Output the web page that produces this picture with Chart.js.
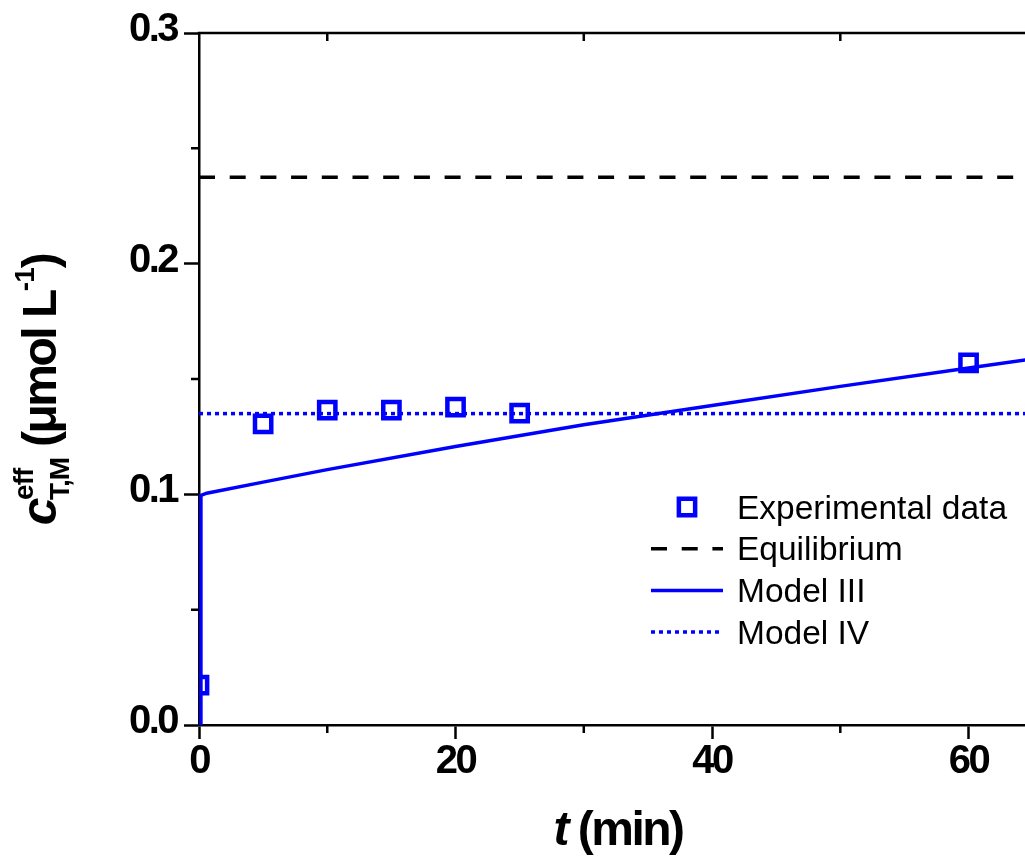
<!DOCTYPE html>
<html>
<head>
<meta charset="utf-8">
<script src="https://cdn.jsdelivr.net/npm/chart.js@4"></script>
<style>
  html, body { margin: 0; padding: 0; background: #fff; overflow: hidden; }
  #chart { display: block; }
</style>
</head>
<body>
<canvas id="chart" width="1025" height="857"></canvas>
<script>
'use strict';

// measured sorption data, t in min, c in µmol/L
const expTime = [0, 5, 10, 15, 20, 25, 60];
const expConc = [0.0173, 0.1305, 0.1365, 0.1365, 0.1378, 0.1352, 0.157];

// model III curve
const modelIIITime = [0.1, 0.15, 0.6, 5, 10, 20, 30, 40, 50, 60, 65];
const modelIIIConc = [0, 0.0995, 0.1005, 0.1053, 0.1107, 0.1207, 0.1302, 0.1385, 0.1468, 0.1548, 0.1587];

// flat levels
const lineTime = [0, 65];
const equilibriumConc = 0.2375;
const modelIVConc = 0.135;

// axis ticks
const xTickValues = [0, 20, 40, 60];
const yTickValues = [0, 0.1, 0.2, 0.3];
const xMinorValues = [10, 30, 50];
const yMinorValues = [0.05, 0.15, 0.25];

const FONT = '"Liberation Sans", Arial, Helvetica, sans-serif';
const BLUE = '#0000ff';
const AXIS_W = 2.5;

const pairs = (xs, ys) => xs.map((x, i) => ({ x, y: ys[i] }));
const level = (value) => lineTime.map((x) => ({ x, y: value }));

// draws a row of text pieces (sub/superscripts) one after another
const drawRuns = (ctx, runs, x, y) => {
  let cx = x;
  runs.forEach((r) => {
    ctx.font = r.font;
    ctx.letterSpacing = r.spacing || '-2.5px';
    ctx.fillText(r.text, cx, y + (r.dy || 0));
    if (r.advance !== false) cx += ctx.measureText(r.text).width;
  });
};
const runsWidth = (ctx, runs) => runs.reduce((w, r) => {
  ctx.font = r.font;
  ctx.letterSpacing = r.spacing || '-2.5px';
  return r.advance === false ? w : w + ctx.measureText(r.text).width;
}, 0);

const tightText = {
  id: 'tightText',
  beforeDraw: (chart) => { chart.ctx.letterSpacing = '-2.5px'; },
};

const frame = {
  id: 'frame',
  afterDraw: (chart) => {
    const { ctx, chartArea: area, scales } = chart;
    ctx.save();
    ctx.strokeStyle = '#000';
    ctx.lineWidth = AXIS_W;
    ctx.beginPath();
    ctx.moveTo(area.left - AXIS_W / 2, area.top);
    ctx.lineTo(area.right, area.top);
    xMinorValues.forEach((v) => {
      const px = scales.x.getPixelForValue(v);
      ctx.moveTo(px, area.bottom);
      ctx.lineTo(px, area.bottom + 8);
      ctx.moveTo(px, area.top);
      ctx.lineTo(px, area.top + 8);
    });
    yMinorValues.forEach((v) => {
      const py = scales.y.getPixelForValue(v);
      ctx.moveTo(area.left, py);
      ctx.lineTo(area.left - 8, py);
    });
    ctx.stroke();
    ctx.restore();
  },
};

const labels = {
  id: 'labels',
  afterDraw: (chart) => {
    const { ctx, chartArea: area } = chart;
    ctx.save();
    ctx.fillStyle = '#000';
    ctx.textBaseline = 'alphabetic';

    // x axis title
    const xRuns = [
      { text: 't', font: `italic bold 48px ${FONT}` },
      { text: ' (min)', font: `bold 48px ${FONT}` },
    ];
    const xw = runsWidth(ctx, xRuns);
    drawRuns(ctx, xRuns, 618 - xw / 2, area.bottom + 120);

    // y axis title, rotated
    const yRuns = [
      { text: 'c', font: `italic bold 50px ${FONT}` },
      { text: 'eff', font: `bold 28px ${FONT}`, dy: -23, advance: false, spacing: '-1px' },
      { text: 'T,M', font: `bold 28px ${FONT}`, dy: 13, spacing: '-1px' },
      { text: ' (\u03bcmol L', font: `bold 48px ${FONT}` },
      { text: '-1', font: `bold 28px ${FONT}`, dy: -22, spacing: '-1px' },
      { text: ')', font: `bold 48px ${FONT}` },
    ];
    const yw = runsWidth(ctx, yRuns);
    ctx.save();
    ctx.translate(56, 390);
    ctx.rotate(-Math.PI / 2);
    drawRuns(ctx, yRuns, -yw / 2, 0);
    ctx.restore();

    // legend
    ctx.letterSpacing = '0px';
    ctx.font = `33.5px ${FONT}`;
    const left = area.left + 452;
    const sampleLen = 72;
    chart.data.datasets.forEach((ds, i) => {
      const y = area.top + 474 + i * 41.7;
      ctx.save();
      ctx.strokeStyle = ds.borderColor;
      ctx.lineWidth = ds.borderWidth;
      if (ds.showLine === false) {
        ctx.fillStyle = 'rgba(0,0,0,0)';
        Chart.helpers.drawPoint(ctx, {
          pointStyle: ds.pointStyle, radius: ds.pointRadius, borderWidth: ds.borderWidth, rotation: 0,
        }, left + 36, y);
      } else {
        ctx.setLineDash(ds.borderDash || []);
        ctx.beginPath();
        ctx.moveTo(left, y);
        ctx.lineTo(left + sampleLen, y);
        ctx.stroke();
      }
      ctx.restore();
      ctx.fillText(ds.label, left + 86, y + 11.5);
    });
    ctx.restore();
  },
};

const tickFont = { family: FONT, size: 40, weight: 'bold', lineHeight: 1 };
const axisGrid = (len) => ({
  display: true, drawOnChartArea: false, drawTicks: true,
  tickLength: len, tickWidth: AXIS_W, tickColor: '#000',
});
const axisBorder = { display: true, color: '#000', width: AXIS_W };

const ctx = document.querySelector('#chart');

new Chart(ctx, {
  type: 'scatter',
  data: {
    datasets: [
      {
        label: 'Experimental data',
        data: pairs(expTime, expConc),
        showLine: false,
        pointStyle: 'rect',
        pointRadius: 11.5,
        borderWidth: 4.5,
        borderColor: BLUE,
        backgroundColor: 'rgba(0,0,0,0)',
        clip: 0,
      },
      {
        label: 'Equilibrium',
        data: level(equilibriumConc),
        showLine: true,
        borderColor: '#000',
        borderWidth: 3.5,
        borderDash: [16, 14.7],
        pointRadius: 0,
        clip: 0,
      },
      {
        label: 'Model III',
        data: pairs(modelIIITime, modelIIIConc),
        showLine: true,
        borderColor: BLUE,
        borderWidth: 3.5,
        pointRadius: 0,
        clip: { left: 4, top: 0, right: 0, bottom: 0 },
      },
      {
        label: 'Model IV',
        data: level(modelIVConc),
        showLine: true,
        borderColor: BLUE,
        borderWidth: 3.5,
        borderDash: [4, 4],
        pointRadius: 0,
        clip: 0,
      },
    ],
  },
  options: {
    responsive: false,
    animation: false,
    layout: { autoPadding: false, padding: { top: 33, right: 0, left: 0, bottom: 0 } },
    plugins: {
      legend: { display: false },
      tooltip: { enabled: false },
    },
    scales: {
      x: {
        type: 'linear',
        position: 'bottom',
        min: 0,
        max: 64.4,
        afterBuildTicks: (s) => { s.ticks = xTickValues.map((value) => ({ value })); },
        afterFit: (s) => {
          s.height = 132;
          s.paddingLeft = 0;
          s.paddingRight = 0;
        },
        ticks: { color: '#000', font: tickFont, padding: 3, maxRotation: 0, autoSkip: false, callback: (v) => `${v}` },
        grid: axisGrid(14),
        border: axisBorder,
      },
      y: {
        type: 'linear',
        min: 0,
        max: 0.3,
        afterBuildTicks: (s) => { s.ticks = yTickValues.map((value) => ({ value })); },
        afterFit: (s) => {
          s.width = 199;
          s.paddingTop = 0;
          s.paddingBottom = 0;
        },
        ticks: { color: '#000', font: tickFont, padding: 7, labelOffset: -3, callback: (v) => v.toFixed(1) },
        grid: axisGrid(15),
        border: axisBorder,
      },
    },
  },
  plugins: [tightText, frame, labels],
});
</script>
</body>
</html>
